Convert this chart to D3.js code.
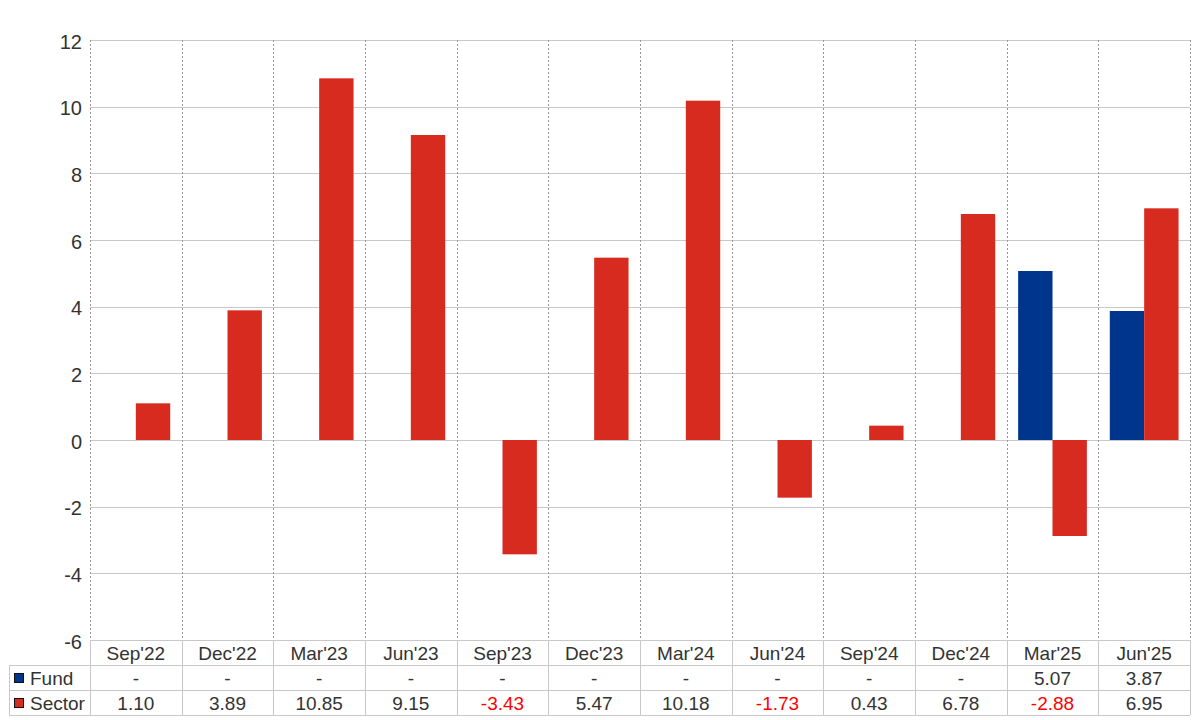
<!DOCTYPE html>
<html><head><meta charset="utf-8">
<script src="https://cdn.jsdelivr.net/npm/d3@7"></script>
<style>body{margin:0;background:#fff;}svg{display:block;font-family:"Liberation Sans",Arial,sans-serif;}</style>
</head><body>
<svg id="c" width="1200" height="720"></svg>
<script>
const categories = ["Sep'22","Dec'22","Mar'23","Jun'23","Sep'23","Dec'23","Mar'24","Jun'24","Sep'24","Dec'24","Mar'25","Jun'25"];
const fundValues = [null,null,null,null,null,null,null,null,null,null,5.07,3.87];
const sectorValues = [1.10,3.89,10.85,9.15,-3.43,5.47,10.18,-1.73,0.43,6.78,-2.88,6.95];
const yTicks = [-6,-4,-2,0,2,4,6,8,10,12];
const seriesNames = ["Fund","Sector"];
const seriesColors = ["#00358e","#d72b20"];

const loc = d3.formatLocale({decimal: ".", thousands: ",", grouping: [3], currency: ["", ""], minus: "-"});
const fmtInt = loc.format("d"), fmt2 = loc.format(".2f");

const svg = d3.select("#c");
const L = 90, R = 1190, T = 40, B = 640;
const x = d3.scaleBand().domain(categories).range([L, R]);
const y = d3.scaleLinear().domain([-6, 12]).range([B, T]);
const bw = x.bandwidth() * 0.375;

// horizontal grid
svg.append("g").selectAll("line").data(yTicks).join("line")
  .attr("x1", L).attr("x2", R).attr("y1", d => Math.round(y(d)) + 0.5).attr("y2", d => Math.round(y(d)) + 0.5)
  .attr("stroke", "#c8c8c8").attr("stroke-width", 1);
// vertical dotted grid
const bounds = categories.map(c => x(c)).concat([R]);
svg.append("g").selectAll("line").data(bounds).join("line")
  .attr("x1", d => Math.round(d) + 0.5).attr("x2", d => Math.round(d) + 0.5).attr("y1", T).attr("y2", B)
  .attr("stroke", "#999").attr("stroke-width", 1).attr("stroke-dasharray", "2,2");

// y axis labels
const yAxis = d3.axisLeft(y).tickValues(yTicks).tickSize(0).tickPadding(8).tickFormat(fmtInt);
const ga = svg.append("g").attr("transform", `translate(${L},0)`).call(yAxis);
ga.select(".domain").remove();
ga.selectAll("text").attr("font-size", 20).attr("fill", "#333").attr("dy", "0.4em")
  .style("font-family", '"Liberation Sans",Arial,sans-serif');

// bars
const series = [fundValues, sectorValues];
series.forEach((vals, si) => {
  svg.append("g").selectAll("rect")
    .data(categories.map((c, i) => ({c, v: vals[i]})).filter(d => d.v !== null))
    .join("rect")
    .attr("x", d => x(d.c) + x.bandwidth() / 2 + (si === 0 ? -bw : 0))
    .attr("width", bw)
    .attr("y", d => y(Math.max(0, d.v)))
    .attr("height", d => Math.abs(y(d.v) - y(0)))
    .attr("fill", seriesColors[si]);
});

// table
const rowH = 25, hdrB = 665, tL = 9;
const tb = svg.append("g");
const lineC = "#c8c8c8";
[hdrB, hdrB + rowH, hdrB + 2 * rowH].forEach(yy => {
  tb.append("line").attr("x1", tL).attr("x2", R).attr("y1", yy + 0.5).attr("y2", yy + 0.5).attr("stroke", lineC);
});
tb.selectAll("line.v").data(bounds).join("line").attr("class", "v")
  .attr("x1", d => Math.round(d) + 0.5).attr("x2", d => Math.round(d) + 0.5)
  .attr("y1", B).attr("y2", hdrB + 2 * rowH).attr("stroke", lineC);
tb.append("line").attr("x1", tL + 0.5).attr("x2", tL + 0.5).attr("y1", hdrB).attr("y2", hdrB + 2 * rowH).attr("stroke", lineC);

const fs = 19;
tb.selectAll("text.h").data(categories).join("text").attr("class", "h")
  .attr("x", d => x(d) + x.bandwidth() / 2).attr("y", B + 20)
  .attr("text-anchor", "middle").attr("font-size", fs).attr("fill", "#333").text(d => d);

series.forEach((vals, si) => {
  const yy = hdrB + si * rowH + 19.5;
  tb.append("rect").attr("x", 14.5).attr("y", hdrB + si * rowH + 8.5).attr("width", 9).attr("height", 9)
    .attr("fill", seriesColors[si]).attr("stroke", "#111").attr("stroke-width", 1);
  tb.append("text").attr("x", 30).attr("y", yy).attr("font-size", fs).attr("fill", "#333").text(seriesNames[si]);
  tb.selectAll("text.r" + si).data(categories.map((c, i) => ({c, v: vals[i]}))).join("text")
    .attr("x", d => x(d.c) + x.bandwidth() / 2).attr("y", yy)
    .attr("text-anchor", "middle").attr("font-size", fs)
    .attr("fill", d => d.v !== null && d.v < 0 ? "#ff0000" : "#333")
    .text(d => d.v === null ? "-" : fmt2(d.v));
});
</script>
</body></html>
